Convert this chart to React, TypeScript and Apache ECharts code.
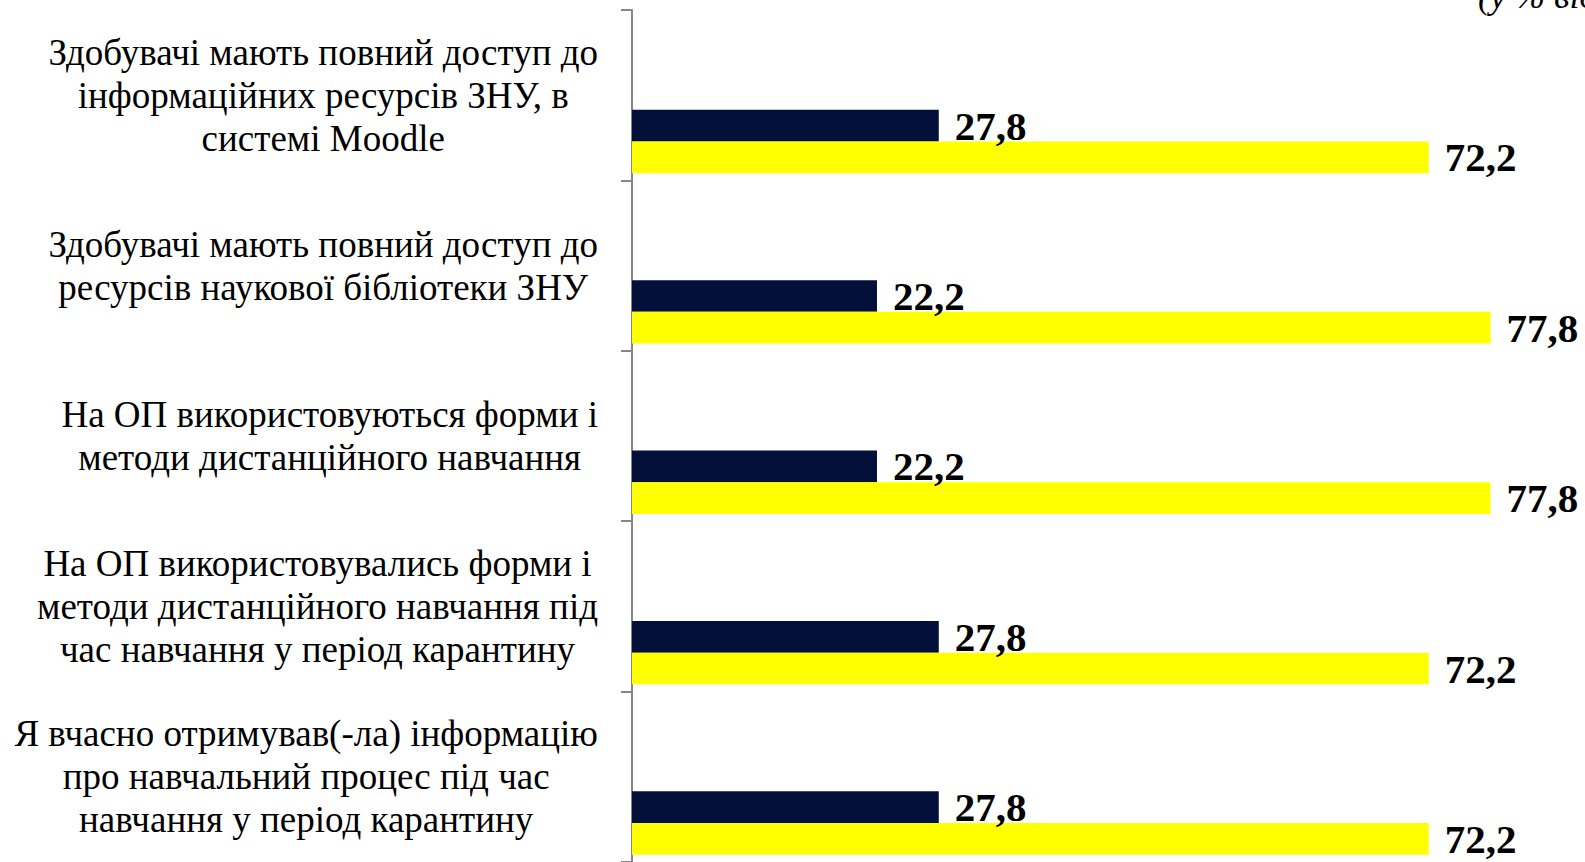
import React, { useEffect, useRef } from "react";
import * as echarts from "echarts";

const categories: string[] = [
  "Здобувачі мають повний доступ до\nінформаційних ресурсів ЗНУ, в\nсистемі Moodle",
  "Здобувачі мають повний доступ до\nресурсів наукової бібліотеки ЗНУ",
  "На ОП використовуються форми і\nметоди дистанційного навчання",
  "На ОП використовувались форми і\nметоди дистанційного навчання під\nчас навчання у період карантину",
  "Я вчасно отримував(-ла) інформацію\nпро навчальний процес під час\nнавчання у період карантину",
];
const seriesDark: number[] = [27.8, 22.2, 22.2, 27.8, 27.8];
const seriesYellow: number[] = [72.2, 77.8, 77.8, 72.2, 72.2];
const unitNote = "(у % від опитаних)";

const FONT = "'Liberation Serif', 'Times New Roman', serif";

export default function App() {
  const ref = useRef<HTMLDivElement>(null);
  useEffect(() => {
    if (!ref.current) return;
    const chart = echarts.init(ref.current, undefined, { renderer: "svg" });
    const valueLabel = {
      show: true,
      position: "right",
      distance: 16,
      fontFamily: FONT,
      fontWeight: "bold",
      fontSize: 41,
      color: "#000000",
      formatter: (p: any) => Number(p.value).toFixed(1).replace(".", ","),
    };
    chart.setOption({
      animation: false,
      backgroundColor: "#ffffff",
      grid: { left: 632, top: 10, width: 949, height: 855, containLabel: false },
      xAxis: {
        type: "value",
        min: 0,
        max: 86,
        show: false,
      },
      yAxis: {
        type: "category",
        inverse: true,
        data: categories,
        axisLine: { show: true, lineStyle: { color: "#868686", width: 2 } },
        axisTick: { show: true, length: 11, lineStyle: { color: "#868686", width: 2 } },
        axisLabel: {
          margin: 34,
          formatter: (v: string) =>
            v
              .split("\n")
              .map((l) => `{c|${l}}`)
              .join("\n"),
          rich: {
            c: {
              fontFamily: FONT,
              fontSize: 37,
              lineHeight: 43,
              color: "#000000",
              align: "center",
            },
          },
        },
        splitLine: { show: false },
      },
      series: [
        {
          name: "spacer",
          type: "bar",
          data: categories.map(() => null),
          barWidth: 92.5,
          silent: true,
          itemStyle: { color: "rgba(0,0,0,0)" },
          label: { show: false },
        },
        {
          name: "Ні",
          type: "bar",
          data: seriesDark,
          barWidth: 31.7,
          barGap: "0%",
          itemStyle: { color: "#03113a" },
          label: valueLabel,
        },
        {
          name: "Так",
          type: "bar",
          data: seriesYellow,
          barWidth: 31.7,
          barGap: "0%",
          itemStyle: { color: "#ffff00" },
          label: valueLabel,
        },
      ],
      graphic: [
        {
          type: "text",
          left: 1478,
          top: -22,
          style: {
            text: unitNote,
            fontFamily: FONT,
            fontStyle: "italic",
            fontSize: 36,
            fill: "#000000",
          },
        },
      ],
    });
    return () => chart.dispose();
  }, []);
  return (
    <div
      ref={ref}
      style={{ position: "absolute", left: 0, top: 0, width: 1585, height: 862 }}
    />
  );
}
